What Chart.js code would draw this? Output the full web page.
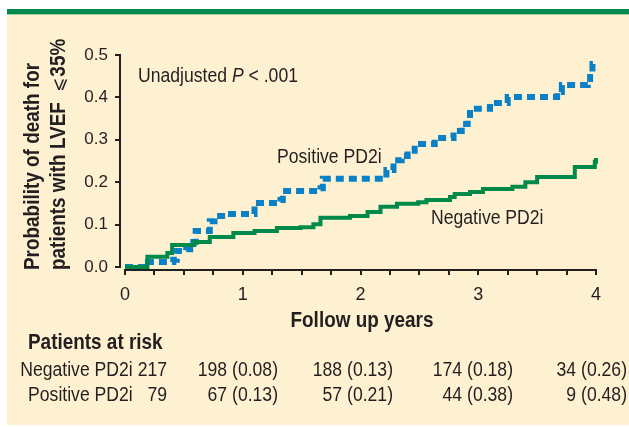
<!DOCTYPE html>
<html>
<head>
<meta charset="utf-8">
<script src="https://cdn.jsdelivr.net/npm/chart.js@4"></script>
<style>
  html, body { margin: 0; padding: 0; background: #fff; }
  canvas { display: block; }
</style>
</head>
<body>
<canvas id="kmChart" width="629" height="427"></canvas>
<script>
// follow up time (years) and cumulative probability of death
const negTimes = [0, 0.19, 0.36, 0.40, 0.59, 0.72, 0.92, 1.10, 1.29, 1.49, 1.60, 1.66, 1.91, 2.06, 2.17, 2.31, 2.49, 2.56, 2.76, 2.80, 2.93, 3.04, 3.29, 3.40, 3.50, 3.82, 3.99, 4.0];
const negProb  = [0, 0.024, 0.033, 0.052, 0.059, 0.071, 0.080, 0.085, 0.092, 0.094, 0.101, 0.116, 0.120, 0.130, 0.142, 0.149, 0.153, 0.158, 0.165, 0.172, 0.177, 0.184, 0.189, 0.200, 0.212, 0.236, 0.248, 0.257];

const posTimes = [0, 0.195, 0.41, 0.44, 0.52, 0.58, 0.60, 0.72, 0.76, 0.86, 1.10, 1.32, 1.34, 1.66, 1.68, 2.22, 2.28, 2.35, 2.40, 2.46, 2.63, 2.79, 2.86, 2.91, 2.93, 3.10, 3.25, 3.67, 3.71, 3.93, 3.95, 3.97, 3.98];
const posProb  = [0, 0.012, 0.017, 0.038, 0.042, 0.059, 0.085, 0.108, 0.120, 0.125, 0.151, 0.158, 0.179, 0.186, 0.208, 0.229, 0.252, 0.262, 0.274, 0.290, 0.304, 0.321, 0.337, 0.347, 0.373, 0.387, 0.401, 0.413, 0.429, 0.434, 0.460, 0.479, 0.486];

const xTicks = [0, 0.25, 0.5, 0.75, 1, 1.25, 1.5, 1.75, 2, 2.25, 2.5, 2.75, 3, 3.25, 3.5, 3.75, 4];
const yTicks = [0, 0.1, 0.2, 0.3, 0.4, 0.5];

// patients at risk table
const riskYears = [1, 2, 3, 4];
const negRisk = ['198 (0.08)', '188 (0.13)', '174 (0.18)', '34 (0.26)'];
const posRisk = ['67 (0.13)', '57 (0.21)', '44 (0.38)', '9 (0.48)'];
const negStart = '217';
const posStart = '79';

const ink = '#231f20';
const face = '"Liberation Sans", Arial, sans-serif';
const squeeze = 0.88; // the original type is a condensed face

// condensed text: scale along the text direction only
function txt(ctx, s, x, y, font, align) {
  ctx.save();
  ctx.font = font;
  ctx.textAlign = align;
  ctx.translate(x, y);
  ctx.scale(squeeze, 1);
  ctx.fillText(s, 0, 0);
  ctx.restore();
}

function widthOf(ctx, s, font) {
  ctx.save();
  ctx.font = font;
  const w = ctx.measureText(s).width * squeeze;
  ctx.restore();
  return w;
}

function pts(xs, ys) {
  return xs.map((x, i) => ({ x: x, y: ys[i] }));
}

const decor = {
  id: 'decor',
  beforeDraw(chart) {
    const ctx = chart.ctx;
    ctx.save();
    ctx.fillStyle = '#ffffff';
    ctx.fillRect(0, 0, chart.width, chart.height);
    ctx.fillStyle = '#fef1d2';
    ctx.fillRect(7, 14, chart.width - 7, 411);
    ctx.fillStyle = '#00884f';
    ctx.fillRect(7, 9, chart.width - 7, 5);
    ctx.fillStyle = '#9fd3a8';
    ctx.fillRect(7, 14, chart.width - 7, 1);
    ctx.restore();
  },
  afterDraw(chart) {
    const ctx = chart.ctx;
    const xs = chart.scales.x, ys = chart.scales.y;
    const area = chart.chartArea;
    ctx.save();
    // axis lines, detached at the corner
    ctx.strokeStyle = ink;
    ctx.lineWidth = 2;
    ctx.beginPath();
    ctx.moveTo(area.left, ys.getPixelForValue(0.5) - 1);
    ctx.lineTo(area.left, ys.getPixelForValue(0) + 1);
    ctx.moveTo(xs.getPixelForValue(0) - 1, area.bottom);
    ctx.lineTo(xs.getPixelForValue(4) + 1, area.bottom);
    ctx.stroke();

    ctx.fillStyle = ink;
    ctx.textBaseline = 'middle';

    const reg = '20px ' + face;
    const ital = 'italic 20px ' + face;
    const bold = 'bold 21.5px ' + face;

    // annotations
    let x = 138;
    txt(ctx, 'Unadjusted ', x, 76, reg, 'left');
    x += widthOf(ctx, 'Unadjusted ', reg);
    txt(ctx, 'P', x, 76, ital, 'left');
    x += widthOf(ctx, 'P', ital);
    txt(ctx, ' < .001', x, 76, reg, 'left');
    txt(ctx, 'Positive PD2i', 277, 157, reg, 'left');
    txt(ctx, 'Negative PD2i', 431, 218, reg, 'left');

    // x title
    txt(ctx, 'Follow up years', 362, 321, bold, 'center');

    // y title, two rotated lines starting at the same height
    ctx.save();
    ctx.textBaseline = 'alphabetic';
    ctx.translate(39, 270);
    ctx.rotate(-Math.PI / 2);
    txt(ctx, 'Probability of death for', 0, 0, bold, 'left');
    ctx.restore();

    ctx.save();
    ctx.textBaseline = 'alphabetic';
    ctx.translate(65, 270);
    ctx.rotate(-Math.PI / 2);
    const l2 = 'patients with LVEF  ';
    txt(ctx, l2, 0, 0, bold, 'left');
    let w2 = widthOf(ctx, l2, bold);
    const sym = '19px "DejaVu Sans", sans-serif';
    txt(ctx, '\u2A7D', w2, 0, sym, 'left');
    w2 += widthOf(ctx, '\u2A7D', sym) + 1;
    txt(ctx, '35%', w2, 0, bold, 'left');
    ctx.restore();

    // patients at risk
    txt(ctx, 'Patients at risk', 28, 343, bold, 'left');
    const nameRight = 167 - widthOf(ctx, ' ' + negStart, reg);
    txt(ctx, 'Negative PD2i', nameRight, 370, reg, 'right');
    txt(ctx, 'Positive PD2i', nameRight, 395, reg, 'right');
    txt(ctx, negStart, 167, 370, reg, 'right');
    txt(ctx, posStart, 167, 395, reg, 'right');
    const colRight = [278, 393, 513, 627];
    riskYears.forEach((yr, i) => {
      txt(ctx, negRisk[i], colRight[i], 370, reg, 'right');
      txt(ctx, posRisk[i], colRight[i], 395, reg, 'right');
    });
    ctx.restore();
  }
};

new Chart(document.getElementById('kmChart'), {
  type: 'line',
  data: {
    datasets: [
      {
        label: 'Negative PD2i',
        data: pts(negTimes, negProb),
        stepped: 'before',
        borderColor: '#008a4a',
        borderWidth: 4,
        pointRadius: 0,
        fill: false,
        clip: false
      },
      {
        label: 'Positive PD2i',
        data: pts(posTimes, posProb),
        stepped: 'before',
        borderColor: '#0a80c6',
        borderWidth: 6,
        borderDash: [8, 5],
        borderCapStyle: 'butt',
        pointRadius: 0,
        fill: false,
        clip: false
      }
    ]
  },
  options: {
    responsive: false,
    animation: false,
    devicePixelRatio: 1,
    layout: { padding: { top: 55, right: 33, left: 0, bottom: 0 } },
    plugins: {
      legend: { display: false },
      tooltip: { enabled: false }
    },
    scales: {
      x: {
        type: 'linear',
        min: -20 / 471,
        max: 4,
        afterFit(scale) { scale.height = 157; },
        afterBuildTicks(scale) { scale.ticks = xTicks.map(v => ({ value: v })); },
        border: { display: false },
        grid: {
          drawOnChartArea: false,
          drawTicks: true,
          tickLength: 5,
          color: ink,
          lineWidth: 2
        },
        ticks: {
          autoSkip: false,
          maxRotation: 0,
          padding: 9,
          color: ink,
          font: { family: face, size: 18 },
          callback: v => (Number.isInteger(v) ? String(v) : '')
        }
      },
      y: {
        min: -1.5 / 212,
        max: 0.5,
        afterFit(scale) { scale.width = 120; },
        afterBuildTicks(scale) { scale.ticks = yTicks.map(v => ({ value: v })); },
        border: { display: false },
        grid: {
          drawOnChartArea: false,
          drawTicks: true,
          tickLength: 5,
          color: ink,
          lineWidth: 2
        },
        ticks: {
          padding: 7,
          color: ink,
          font: { family: face, size: 17 },
          callback: v => v.toFixed(1)
        }
      }
    }
  },
  plugins: [decor]
});
</script>
</body>
</html>
